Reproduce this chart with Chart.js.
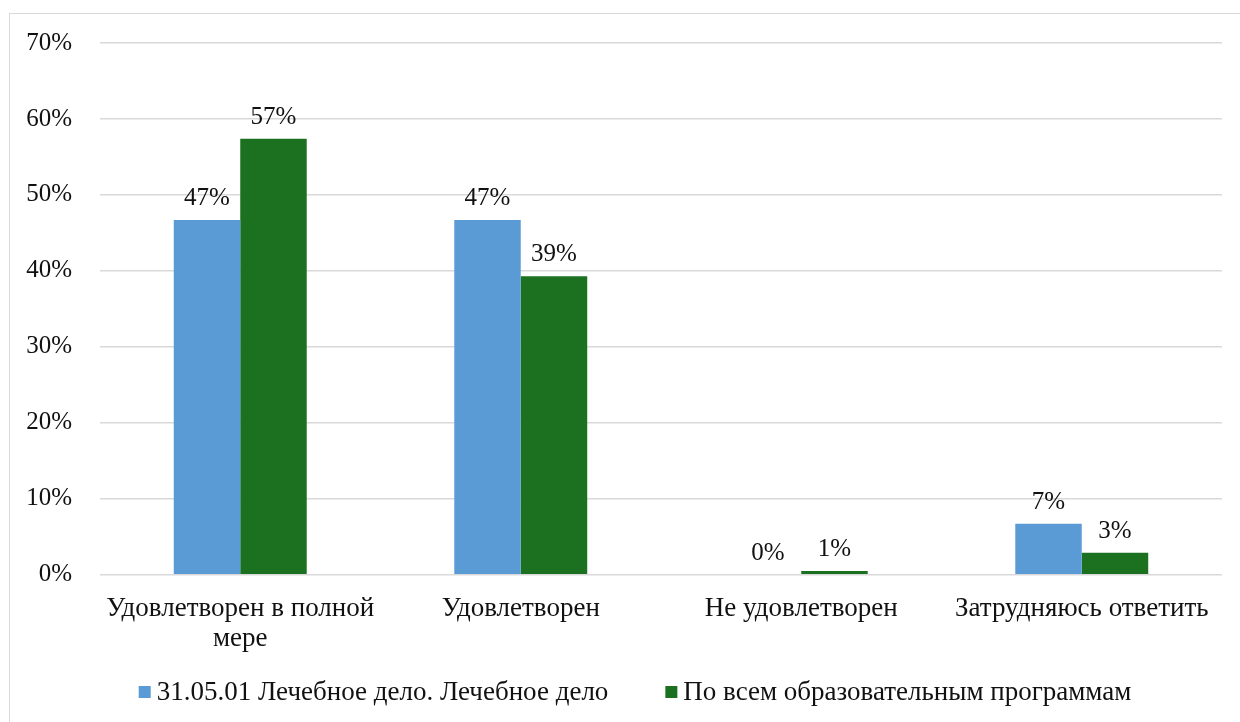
<!DOCTYPE html>
<html>
<head>
<meta charset="utf-8">
<script src="https://cdn.jsdelivr.net/npm/chart.js@4/dist/chart.umd.min.js"></script>
<style>
  body { margin: 0; background: #fff; }
  #frame { position: absolute; left: 9px; top: 13px; width: 1300px; height: 800px; border: 1px solid #d9d9d9; }
  #wrap { position: absolute; left: 0; top: 0; width: 1240px; height: 722px; }
</style>
</head>
<body>
<div id="frame"></div>
<div id="wrap"><canvas id="mainChart"></canvas></div>
<script>
// категории и значения (%)
const categories = [['Удовлетворен в полной', 'мере'], 'Удовлетворен', 'Не удовлетворен', 'Затрудняюсь ответить'];
const seriesNames = ['31.05.01 Лечебное дело. Лечебное дело', 'По всем образовательным программам'];
const valuesSpec = [46.7, 46.7, 0, 6.7];
const valuesAll = [57.4, 39.3, 0.5, 2.9];
const yTicks = [0, 10, 20, 30, 40, 50, 60, 70];

const fontFamily = '"Liberation Serif", "Times New Roman", serif';
Chart.defaults.font.family = fontFamily;
Chart.defaults.color = '#111';

// подписи значений над столбцами
const barLabels = {
    id: 'barLabels',
    afterDatasetsDraw(chart) {
        const ctx = chart.ctx;
        ctx.save();
        ctx.font = '25px ' + fontFamily;
        ctx.fillStyle = '#111';
        ctx.textAlign = 'center';
        ctx.textBaseline = 'alphabetic';
        chart.data.datasets.forEach((ds, i) => {
            chart.getDatasetMeta(i).data.forEach((bar, j) => {
                ctx.fillText(Math.round(ds.data[j]) + '%', bar.x, bar.y - 15);
            });
        });
        ctx.restore();
    }
};

// легенда внизу (как в Excel: маленький квадрат и узкий отступ)
const bottomLegend = {
    id: 'bottomLegend',
    afterDraw(chart) {
        const ctx = chart.ctx;
        const box = 12, gapText = 6, gapItem = 57, yMid = 692, xCenter = 635;
        ctx.save();
        ctx.font = '27px ' + fontFamily;
        ctx.textBaseline = 'middle';
        ctx.textAlign = 'left';
        const items = chart.data.datasets.map(ds => ({
            text: ds.label, color: ds.backgroundColor, w: ctx.measureText(ds.label).width
        }));
        let total = items.reduce((s, it) => s + box + gapText + it.w, 0) + gapItem * (items.length - 1);
        let x = xCenter - total / 2;
        items.forEach(it => {
            ctx.fillStyle = it.color;
            ctx.fillRect(x, yMid - box / 2, box, box);
            ctx.fillStyle = '#111';
            ctx.fillText(it.text, x + box + gapText, yMid + 1);
            x += box + gapText + it.w + gapItem;
        });
        ctx.restore();
    }
};

var chrt = document.getElementById('mainChart').getContext('2d');
var mainChart = new Chart(chrt, {
    type: 'bar',
    data: {
        labels: categories,
        datasets: [{
            label: seriesNames[0],
            data: valuesSpec,
            backgroundColor: '#5b9bd5',
        }, {
            label: seriesNames[1],
            data: valuesAll,
            backgroundColor: '#1c7120',
        }],
    },
    options: {
        responsive: true,
        maintainAspectRatio: false,
        animation: false,
        layout: {
            padding: { left: 10, right: 18, top: 32, bottom: 57 }
        },
        plugins: {
            legend: { display: false },
            tooltip: { enabled: false }
        },
        datasets: {
            bar: {
                categoryPercentage: 0.474,
                barPercentage: 1,
            }
        },
        scales: {
            y: {
                min: 0,
                max: 70,
                afterBuildTicks: function(axis) {
                    axis.ticks = yTicks.map(v => ({ value: v }));
                },
                afterFit: function(axis) { axis.width = 90; },
                ticks: {
                    padding: 28,
                    font: { size: 25 },
                    callback: function(value) { return value + '%'; }
                },
                grid: { color: '#d9d9d9', lineWidth: 1.5, drawTicks: false },
                border: { display: false }
            },
            x: {
                ticks: {
                    padding: 12,
                    font: { size: 27, lineHeight: 1.08 },
                    maxRotation: 0,
                    autoSkip: false
                },
                grid: { display: false },
                border: { display: false }
            }
        }
    },
    plugins: [barLabels, bottomLegend]
});
</script>
</body>
</html>
